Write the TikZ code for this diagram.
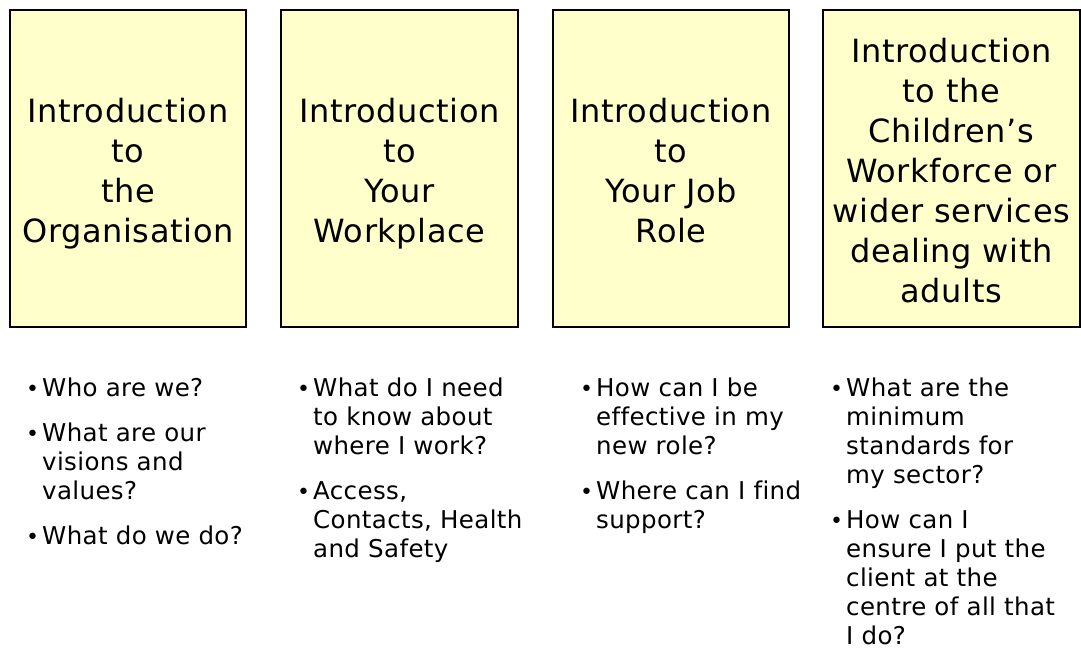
\documentclass[tikz,border=0pt]{standalone}
\usepackage{fontspec}
\setmainfont{DejaVu Sans}
\newfontfamily\headfamily[LetterSpace=2, Ligatures=NoCommon]{DejaVu Sans}
\newfontfamily\listfamily[LetterSpace=1.5, Ligatures=NoCommon]{DejaVu Sans}
\usepackage{xcolor}
\definecolor{cardfill}{RGB}{255, 255, 204}

\newcommand{\headfont}{\headfamily\fontsize{32}{40}\selectfont}
\newcommand{\listfont}{\listfamily\fontsize{24.5}{29}\selectfont}
% one bullet point, later lines hang under the text
\newcommand{\qitem}[1]{\hangindent=15pt\hangafter=1\noindent\strut
  \makebox[15pt][l]{\hspace{-1pt}\fontsize{22}{22}\selectfont\textbullet}#1\par}

\begin{document}
\begin{tikzpicture}[x=1pt, y=-1pt,
  card/.style={draw=black, line width=1.3pt, fill=cardfill, minimum height=317pt, inner sep=0pt},
  headtext/.style={align=center, font=\headfont, yshift=-7.5pt,
                   execute at begin node=\strut, execute at end node=\strut},
  qlist/.style={anchor=north west, inner sep=0pt, text width=240pt, align=left, font=\listfont,
                execute at begin node={\setlength{\parskip}{16pt}}}]
  \useasboundingbox (0,0) rectangle (1081,651);

  \foreach \n/\cx/\w in {1/128/236, 2/399.5/237, 3/671/236, 4/951.5/257}
    \node[card, minimum width=\w] (box\n) at (\cx, 168.5) {};

  \node[headtext] (head1) at (box1) {Introduction\\to\\the\\Organisation};
  \node[headtext] (head2) at (box2) {Introduction\\to\\Your\\Workplace};
  \node[headtext] (head3) at (box3) {Introduction\\to\\Your Job\\Role};
  \node[headtext] (head4) at (box4) {Introduction\\to the\\Children’s\\Workforce or\\wider services\\dealing with\\adults};

  \node[qlist] (list1) at (27, 375.7) {%
    \qitem{Who are we?}%
    \qitem{What are our\newline visions and\newline values?}%
    \qitem{What do we do?}};
  \node[qlist] (list2) at (298, 375.7) {%
    \qitem{What do I need\newline to know about\newline where I work?}%
    \qitem{Access,\newline Contacts, Health\newline and Safety}};
  \node[qlist] (list3) at (581, 375.7) {%
    \qitem{How can I be\newline effective in my\newline new role?}%
    \qitem{Where can I find\newline support?}};
  \node[qlist] (list4) at (831, 375.7) {%
    \qitem{What are the\newline minimum\newline standards for\newline my sector?}%
    \qitem{How can I\newline ensure I put the\newline client at the\newline centre of all that\newline I do?}};
\end{tikzpicture}
\end{document}
